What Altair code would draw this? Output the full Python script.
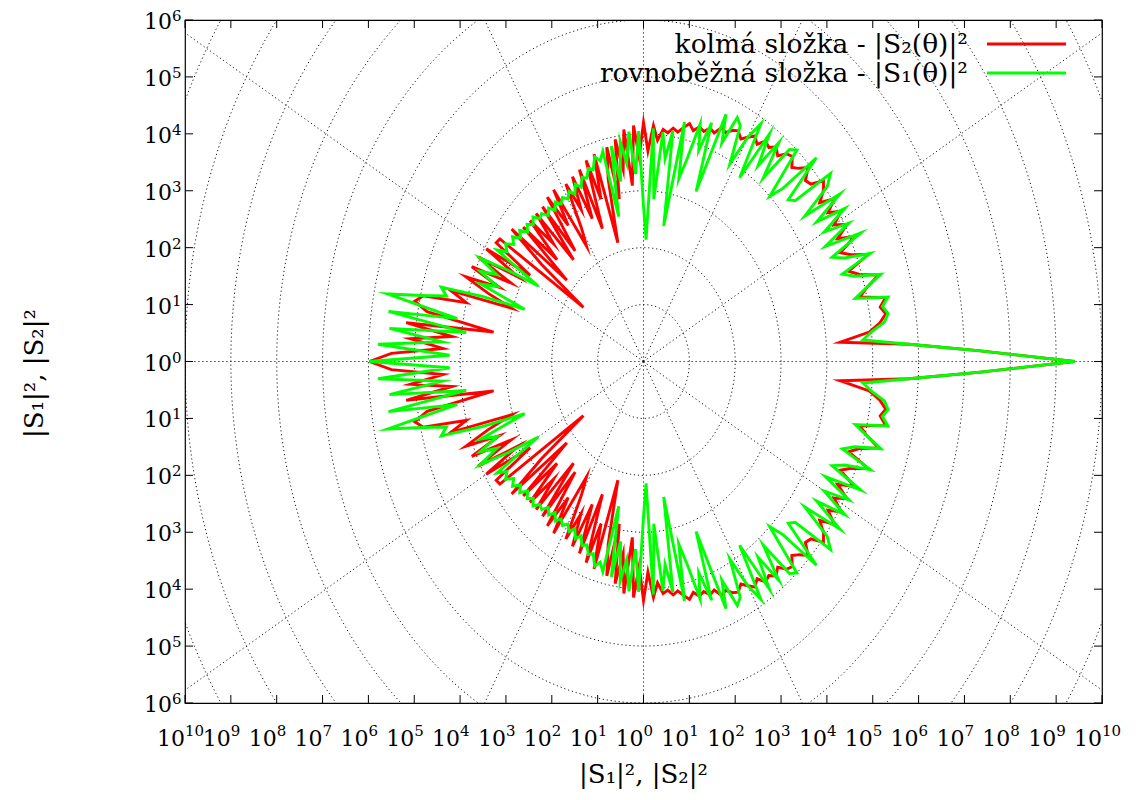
import altair as alt
import pandas as pd
import numpy as np

# scattering angle (deg) and log10 of intensity, upper half (mirrored for the lower half)
THETA = [0, 1.5, 3, 4.5, 6, 7.5, 9, 10.5, 12, 13.5, 15, 16.5, 18, 19.5, 21, 22.5, 24, 25.5, 27, 28.5,
         30, 31.5, 33, 34.5, 36, 37.5, 39, 40.5, 42, 43.5, 45, 46.5, 48, 49.5, 51, 52.5, 54, 55.5, 57, 58.5,
         60, 61.5, 63, 64.5, 66, 67.5, 69, 70.5, 72, 73.5, 75, 76.5, 78, 79.5, 81, 82.5, 84, 85.5, 87, 88.5,
         90, 91.5, 93, 94.5, 96, 97.5, 99, 100.5, 102, 103.5, 105, 106.5, 108, 109.5, 111, 112.5, 114, 115.5, 117, 118.5,
         120, 121.5, 123, 124.5, 126, 127.5, 129, 130.5, 132, 133.5, 135, 136.5, 138, 139.5, 141, 142.5, 144, 145.5, 147, 148.5,
         150, 151.5, 153, 154.5, 156, 157.5, 159, 160.5, 162, 163.5, 165, 166.5, 168, 169.5, 171, 172.5, 174, 175.5, 177, 178.5,
         180]

# |S2|^2 (kolma slozka), log10
RED = [9.4, 7.3, 5.8, 4.3, 4.95, 5.2, 5.35, 5.25, 5.4, 4.85, 5.05, 5.35, 4.95, 4.75, 5.25, 4.9, 4.7, 5.1, 4.75, 5.05,
       4.8, 5.05, 4.8, 5.05, 4.75, 4.95, 5.05, 4.8, 4.75, 4.95, 4.8, 4.7, 4.85, 4.8, 4.65, 4.75, 4.65, 4.7, 4.55, 4.65,
       4.55, 4.45, 4.55, 4.5, 4.4, 4.45, 4.3, 4.35, 4.25, 4.3, 4.2, 4.3, 4.2, 4.1, 4.15, 4.05, 4.1, 3.9, 4.15, 3.7,
       4.2, 3.6, 4.15, 3.1, 4.1, 3.4, 3.95, 2.9, 3.85, 3.3, 2.16, 3.8, 3.0, 3.75, 2.5, 3.65, 2.75, 3.6, 3.0, 3.55,
       2.7, 2.38, 3.6, 2.9, 3.57, 2.45, 3.5, 2.35, 3.5, 2.85, 3.5, 2.6, 3.53, 2.2, 3.7, 2.8, 1.62, 3.8, 3.83, 2.9,
       3.96, 3.1, 4.05, 3.2, 4.1, 3.4, 4.15, 3.6, 3.03, 4.38, 4.0, 4.94, 5.1, 4.8, 3.31, 5.22, 4.2, 5.1, 4.38, 5.5,
       5.98]

# |S1|^2 (rovnobezna slozka), log10
GREEN = [9.4, 7.3, 5.8, 4.8, 5.0, 5.3, 5.4, 5.3, 5.45, 4.75, 5.05, 5.4, 4.85, 4.6, 5.3, 4.75, 4.5, 5.25, 4.45, 5.1,
         4.55, 5.15, 4.5, 5.2, 4.35, 5.05, 5.25, 4.35, 4.25, 5.2, 4.3, 4.0, 5.0, 4.9, 4.15, 4.85, 4.25, 4.85, 3.85, 4.9,
         4.55, 3.95, 4.65, 4.75, 4.2, 4.7, 3.2, 4.45, 3.9, 4.35, 3.7, 3.3, 4.3, 2.42, 4.1, 3.6, 4.05, 2.86, 4.1, 2.14,
         2.73, 4.05, 3.3, 4.05, 3.5, 3.9, 3.2, 3.85, 2.6, 3.8, 3.65, 3.75, 3.55, 3.6, 3.45, 3.5, 3.35, 3.45, 3.3, 3.4,
         3.3, 3.38, 3.3, 3.4, 3.28, 3.4, 3.3, 3.42, 3.38, 3.5, 3.4, 3.5, 3.4, 3.55, 3.45, 3.6, 3.5, 3.65, 3.55, 3.75,
         2.65, 3.35, 4.0, 3.55, 3.9, 3.45, 3.8, 2.75, 3.7, 4.6, 4.45, 4.97, 5.71, 4.13, 5.63, 3.9, 5.57, 4.4, 5.8, 4.23,
         5.98]

XTICKS = list(range(-10, 11))
YTICKS = list(range(-6, 7))
GRID_R = list(range(1, 12))
GRID_ANGLES = list(range(0, 360, 30))

LEGEND_RED = "kolmá složka - |S₂(θ)|²"
LEGEND_GREEN = "rovnoběžná složka - |S₁(θ)|²"
AXIS_TITLE = "|S₁|², |S₂|²"

W, H = 917, 683
FONT = "DejaVu Serif"

rows = []
for name, vals in (("red", RED), ("green", GREEN)):
    for half in (1, -1):
        for t, r in zip(THETA, vals):
            rows.append(dict(series=name, half=half, theta=t, r=r))
curves = pd.DataFrame(rows)

xs = alt.Scale(domain=[-10, 10], nice=False, zero=False)
ys = alt.Scale(domain=[-6, 6], nice=False, zero=False)

# polar grid geometry
circ_rows = []
for R in GRID_R:
    for a in range(0, 361, 2):
        circ_rows.append(dict(R=R, a=a, gx=R * np.cos(np.radians(a)), gy=R * np.sin(np.radians(a))))
circ = pd.DataFrame(circ_rows)
rad_rows = []
for a in GRID_ANGLES:
    for k, R in enumerate([0, 15]):
        rad_rows.append(dict(ang=a, k=k, gx=R * np.cos(np.radians(a)), gy=R * np.sin(np.radians(a))))
rad = pd.DataFrame(rad_rows)

grid_style = dict(color="black", strokeWidth=1, strokeDash=[1.2, 2.8], clip=True, opacity=0.9)
circles = alt.Chart(circ).mark_line(**grid_style).encode(
    x=alt.X("gx:Q", scale=xs, axis=None), y=alt.Y("gy:Q", scale=ys, axis=None),
    detail="R:N", order="a:Q")
radials = alt.Chart(rad).mark_line(**grid_style).encode(
    x=alt.X("gx:Q", scale=xs, axis=None), y=alt.Y("gy:Q", scale=ys, axis=None),
    detail="ang:N", order="k:Q")


def curve(name, color):
    return alt.Chart(curves).transform_filter(alt.datum.series == name).transform_calculate(
        px="datum.r*cos(datum.theta*PI/180)",
        py="datum.half*datum.r*sin(datum.theta*PI/180)",
    ).mark_line(color=color, strokeWidth=2.9, strokeJoin="miter", strokeMiterLimit=8).encode(
        x=alt.X("px:Q", scale=xs, axis=None),
        y=alt.Y("py:Q", scale=ys, axis=None),
        detail="half:N",
        order="theta:Q",
    )


red_line = curve("red", "#ff0000")
green_line = curve("green", "#00ff00")

# ticks (inward, mirrored)
xt = pd.DataFrame({"v": XTICKS})
yt = pd.DataFrame({"v": YTICKS})
tick_style = dict(color="black", strokeWidth=1)
xt_bottom = alt.Chart(xt).mark_rule(**tick_style).encode(
    x=alt.X("v:Q", scale=xs, axis=None), y=alt.value(H), y2=alt.value(H - 8))
xt_top = alt.Chart(xt).mark_rule(**tick_style).encode(
    x=alt.X("v:Q", scale=xs, axis=None), y=alt.value(0), y2=alt.value(8))
yt_left = alt.Chart(yt).mark_rule(**tick_style).encode(
    y=alt.Y("v:Q", scale=ys, axis=None), x=alt.value(0), x2=alt.value(8))
yt_right = alt.Chart(yt).mark_rule(**tick_style).encode(
    y=alt.Y("v:Q", scale=ys, axis=None), x=alt.value(W), x2=alt.value(W - 8))

# tick labels: "10" with superscript exponent
BASE = 22
SUP = 15
xlab_base = alt.Chart(xt).transform_calculate(
    s="'10'", sh="abs(datum.v) >= 10 ? 3 : 7"
).mark_text(font=FONT, fontSize=BASE, align="right", baseline="alphabetic").encode(
    x=alt.X("v:Q", scale=xs, axis=None), y=alt.value(H + 43), text="s:N",
    xOffset=alt.XOffset("sh:Q", scale=None))
xlab_exp = alt.Chart(xt).transform_calculate(
    e="'' + abs(datum.v)", sh="abs(datum.v) >= 10 ? 3 : 7"
).mark_text(font=FONT, fontSize=SUP, align="left", baseline="alphabetic").encode(
    x=alt.X("v:Q", scale=xs, axis=None), y=alt.value(H + 33), text="e:N",
    xOffset=alt.XOffset("sh:Q", scale=None))
ylab_base = alt.Chart(yt).transform_calculate(s="'10'").mark_text(
    font=FONT, fontSize=BASE, align="right", baseline="alphabetic", dy=9).encode(
    y=alt.Y("v:Q", scale=ys, axis=None), x=alt.value(-13), text="s:N")
ylab_exp = alt.Chart(yt).transform_calculate(e="'' + abs(datum.v)").mark_text(
    font=FONT, fontSize=SUP, align="left", baseline="alphabetic", dy=1).encode(
    y=alt.Y("v:Q", scale=ys, axis=None), x=alt.value(-13), text="e:N")

one = pd.DataFrame({"k": [0]})
xtitle = alt.Chart(one).mark_text(font=FONT, fontSize=26, align="center", baseline="alphabetic").encode(
    x=alt.value(W / 2), y=alt.value(H + 80), text=alt.value(AXIS_TITLE))
ytitle = alt.Chart(one).mark_text(font=FONT, fontSize=26, align="center", baseline="middle", angle=270).encode(
    x=alt.value(-150), y=alt.value(H / 2 + 12), text=alt.value(AXIS_TITLE))

LEG_SIZE = 26.5
leg_text_red = alt.Chart(one).mark_text(font=FONT, fontSize=LEG_SIZE, align="right", baseline="alphabetic").encode(
    x=alt.value(783), y=alt.value(33), text=alt.value(LEGEND_RED))
leg_text_green = alt.Chart(one).mark_text(font=FONT, fontSize=LEG_SIZE, align="right", baseline="alphabetic").encode(
    x=alt.value(783), y=alt.value(62), text=alt.value(LEGEND_GREEN))
leg_red = alt.Chart(one).mark_rule(color="#ff0000", strokeWidth=2.9).encode(
    x=alt.value(802), x2=alt.value(881), y=alt.value(24))
leg_green = alt.Chart(one).mark_rule(color="#00ff00", strokeWidth=2.9).encode(
    x=alt.value(802), x2=alt.value(881), y=alt.value(53))

chart = alt.layer(
    circles, radials, red_line, green_line,
    xt_bottom, xt_top, yt_left, yt_right,
    xlab_base, xlab_exp, ylab_base, ylab_exp,
    xtitle, ytitle, leg_text_red, leg_text_green, leg_red, leg_green,
).properties(
    width=W, height=H,
    autosize=alt.AutoSizeParams(type="none"),
    padding={"left": 177, "top": 12, "right": 20, "bottom": 89},
).configure_view(stroke="black", strokeWidth=1.2)

chart.save("out.html", embed_options={"renderer": "svg", "actions": False})
